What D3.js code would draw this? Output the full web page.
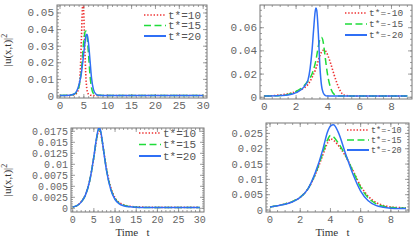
<!DOCTYPE html>
<html lang="en">
  <head>
    <meta charset="utf-8">
    <title>|u(x,t)|^2</title>
    <script src="https://cdnjs.cloudflare.com/ajax/libs/d3/7.8.5/d3.min.js"></script>
    <style type="text/css">
    body { margin: 0; background: #fff; }
    .tick-label { font-family: "Liberation Mono", "DejaVu Sans Mono", monospace; font-size: 11px; fill: #666; }
    .legend-label { font-family: "Liberation Mono", "DejaVu Sans Mono", monospace; font-size: 11px; fill: #555; }
    .axis-title { font-family: "Liberation Serif", "DejaVu Serif", serif; font-size: 11px; fill: #333; }
</style>
  </head>
  <body>
<script>
// ---- data ----
var seriesNames = ["red", "green", "blue"];

// top left: t* = 10, 15, 20
var xA = [0, 2, 3, 3.5, 4, 4.3, 4.5, 4.7, 4.8, 4.9, 5.1, 5.3, 5.5, 5.7, 6, 6.3, 6.6, 7, 7.5, 8, 10, 15, 20, 25, 30];
var redA   = [0.0003, 0.0004, 0.0008, 0.0018, 0.006, 0.018, 0.036, 0.053, 0.058, 0.055, 0.038, 0.02, 0.008, 0.003, 0.001, 0.0005, 0.0004, 0.0003, 0.0003, 0.0003, 0.0003, 0.0003, 0.0003, 0.0003, 0.0003];
var greenA = [0.0003, 0.0005, 0.0012, 0.0025, 0.006, 0.011, 0.016, 0.023, 0.027, 0.031, 0.036, 0.039, 0.039, 0.035, 0.024, 0.012, 0.005, 0.0015, 0.0006, 0.0004, 0.0003, 0.0003, 0.0003, 0.0003, 0.0003];
var blueA  = [0.0003, 0.0005, 0.0012, 0.003, 0.007, 0.011, 0.014, 0.019, 0.021, 0.024, 0.029, 0.034, 0.037, 0.037, 0.031, 0.021, 0.011, 0.004, 0.0012, 0.0005, 0.0003, 0.0003, 0.0003, 0.0003, 0.0003];
var legendA = ["t*=10", "t*=15", "t*=20"];
var yTicksA = ["0", "0.01", "0.02", "0.03", "0.04", "0.05"];
var xTicksA = ["0", "5", "10", "15", "20", "25", "30"];

// top right: t* = -10, -15, -20
var xB = [0, 1, 1.5, 2, 2.5, 2.75, 3, 3.1, 3.2, 3.25, 3.3, 3.4, 3.5, 3.6, 3.7, 3.8, 3.9, 4, 4.2, 4.4, 4.6, 4.8, 5, 5.5, 6, 7, 8, 9];
var redB   = [0.001, 0.002, 0.003, 0.005, 0.008, 0.011, 0.017, 0.02, 0.023, 0.025, 0.027, 0.032, 0.036, 0.039, 0.0405, 0.0405, 0.039, 0.036, 0.028, 0.019, 0.011, 0.005, 0.002, 0.001, 0.001, 0.001, 0.001, 0.001];
var greenB = [0.001, 0.0015, 0.0025, 0.005, 0.01, 0.014, 0.02, 0.024, 0.029, 0.032, 0.036, 0.044, 0.05, 0.0515, 0.048, 0.038, 0.027, 0.018, 0.007, 0.0025, 0.0012, 0.001, 0.001, 0.001, 0.001, 0.001, 0.001, 0.001];
var blueB  = [0.001, 0.0015, 0.002, 0.004, 0.009, 0.015, 0.04, 0.058, 0.074, 0.077, 0.075, 0.055, 0.026, 0.01, 0.004, 0.002, 0.0012, 0.001, 0.001, 0.001, 0.001, 0.001, 0.001, 0.001, 0.001, 0.001, 0.001, 0.001];
var legendB = ["t*=-10", "t*=-15", "t*=-20"];
var yTicksB = ["0", "0.02", "0.04", "0.06"];
var xTicksB = ["0", "2", "4", "6", "8"];

// bottom left: t* = 10, 15, 20
var xC = [0, 1, 2, 3, 4, 5, 5.5, 6, 6.3, 6.6, 7, 7.5, 8, 9, 10, 11, 12, 14, 16, 20, 25, 30];
var redC   = [0.0003, 0.0006, 0.0015, 0.0031, 0.0063, 0.0116, 0.0148, 0.0171, 0.0175, 0.017, 0.015, 0.0119, 0.009, 0.0047, 0.0024, 0.0013, 0.0008, 0.0004, 0.0003, 0.0002, 0.0002, 0.0002];
var greenC = [0.0003, 0.0006, 0.0014, 0.003, 0.0062, 0.0117, 0.015, 0.0176, 0.018, 0.0174, 0.0151, 0.0118, 0.0087, 0.0044, 0.0022, 0.0011, 0.0007, 0.0003, 0.0002, 0.0002, 0.0002, 0.0002];
var blueC  = [0.0003, 0.0006, 0.0014, 0.003, 0.0062, 0.0118, 0.0152, 0.0178, 0.0183, 0.0176, 0.0152, 0.0117, 0.0085, 0.0042, 0.002, 0.001, 0.0006, 0.0003, 0.0002, 0.0002, 0.0002, 0.0002];
var legendC = ["t*=10", "t*=15", "t*=20"];
var yTicksC = ["0", "0.0025", "0.005", "0.0075", "0.01", "0.0125", "0.015", "0.0175"];
var xTicksC = ["0", "5", "10", "15", "20", "25", "30"];

// bottom right: t* = -10, -15, -20
var xD = [0, 0.5, 1, 1.5, 2, 2.5, 3, 3.5, 3.8, 4, 4.2, 4.5, 5, 5.5, 6, 6.5, 7, 7.5, 8, 8.5, 9];
var redD   = [0.001, 0.0014, 0.002, 0.0028, 0.0042, 0.0068, 0.0115, 0.018, 0.0218, 0.0232, 0.0228, 0.0212, 0.0176, 0.0128, 0.0078, 0.0045, 0.0025, 0.0015, 0.001, 0.0008, 0.0007];
var greenD = [0.001, 0.0014, 0.002, 0.0028, 0.0042, 0.0068, 0.0118, 0.0187, 0.0228, 0.0243, 0.0239, 0.022, 0.0178, 0.0126, 0.0074, 0.004, 0.0021, 0.0012, 0.0008, 0.0007, 0.0006];
var blueD  = [0.001, 0.0014, 0.0019, 0.0027, 0.0041, 0.0068, 0.0122, 0.0198, 0.0254, 0.0274, 0.0278, 0.0256, 0.0184, 0.0116, 0.0062, 0.003, 0.0015, 0.0009, 0.0006, 0.0005, 0.0005];
var legendD = ["t*=-10", "t*=-15", "t*=-20"];
var yTicksD = ["0", "0.005", "0.01", "0.015", "0.02", "0.025"];
var xTicksD = ["0", "2", "4", "6", "8"];

// ---- styles ----
var colors = { red: "#ee3030", green: "#1fdc3a", blue: "#2f6ff5" };
var dashes = { red: "1.4,1.8", green: "7,3.5", blue: null };
var widths = { red: 1.6, green: 1.5, blue: 1.5 };

var svg = d3.select("body").append("svg").attr("width", 416).attr("height", 240);

function drawPanel(p) {
  var x = d3.scaleLinear().domain(p.xDomain).range([p.left, p.right]);
  var y = d3.scaleLinear().domain(p.yDomain).range([p.bottom, p.top]);
  var g = svg.append("g");

  g.append("clipPath").attr("id", "clip" + p.id)
    .append("rect").attr("x", p.left).attr("y", p.top)
    .attr("width", p.right - p.left).attr("height", p.bottom - p.top);

  // frame ticks: minor then major, all four sides
  var xMinor = d3.range(0, p.xDomain[1], p.xMinor), yMinor = d3.range(0, p.yDomain[1], p.yMinor);
  var xMajor = p.xTicks.map(Number), yMajor = p.yTicks.map(Number);
  function ticksX(vals, len) {
    vals.forEach(function (v) {
      g.append("line").attr("x1", x(v)).attr("x2", x(v)).attr("y1", p.bottom).attr("y2", p.bottom - len);
      g.append("line").attr("x1", x(v)).attr("x2", x(v)).attr("y1", p.top).attr("y2", p.top + len);
    });
  }
  function ticksY(vals, len) {
    vals.forEach(function (v) {
      g.append("line").attr("y1", y(v)).attr("y2", y(v)).attr("x1", p.left).attr("x2", p.left + len);
      g.append("line").attr("y1", y(v)).attr("y2", y(v)).attr("x1", p.right).attr("x2", p.right - len);
    });
  }
  ticksX(xMinor, 2); ticksY(yMinor, 2);
  ticksX(xMajor, 4); ticksY(yMajor, 4);
  g.selectAll("line").attr("stroke", "#888").attr("stroke-width", 0.8);

  g.append("rect").attr("x", p.left).attr("y", p.top)
    .attr("width", p.right - p.left).attr("height", p.bottom - p.top)
    .attr("fill", "none").attr("stroke", "#777").attr("stroke-width", 1);

  // tick labels
  g.selectAll(".xl").data(p.xTicks).enter().append("text")
    .attr("class", "tick-label").attr("text-anchor", "middle").style("font-size", p.tickSize + "px")
    .attr("x", function (d) { return x(+d); }).attr("y", p.bottom + 11).text(function (d) { return d; });
  g.selectAll(".yl").data(p.yTicks).enter().append("text")
    .attr("class", "tick-label").attr("text-anchor", "end").style("font-size", p.tickSize + "px")
    .attr("x", p.left - 3).attr("y", function (d) { return y(+d) + 3.5; }).text(function (d) { return d; });

  // curves
  var line = d3.line().curve(d3.curveMonotoneX)
    .x(function (d) { return x(d[0]); }).y(function (d) { return y(d[1]); });
  seriesNames.forEach(function (name, i) {
    var pts = p.xs.map(function (v, j) { return [v, p.series[i][j]]; });
    g.append("path").datum(pts).attr("d", line)
      .attr("clip-path", "url(#clip" + p.id + ")")
      .attr("fill", "none").attr("stroke", colors[name])
      .attr("stroke-width", widths[name]).attr("stroke-dasharray", dashes[name]);
  });

  // legend
  seriesNames.forEach(function (name, i) {
    var ly = p.legendY + i * p.legendStep;
    g.append("line").attr("x1", p.legendX).attr("x2", p.legendX + 22).attr("y1", ly).attr("y2", ly)
      .attr("stroke", colors[name]).attr("stroke-width", name === "blue" ? 2 : 1.6)
      .attr("stroke-dasharray", dashes[name]);
    g.append("text").attr("class", "legend-label").style("font-size", p.legendSize + "px")
      .attr("x", p.legendX + 24).attr("y", ly + p.legendSize * 0.35)
      .text(p.legend[i]);
  });

  if (p.yTitle) {
    var t = g.append("text").attr("class", "axis-title").attr("text-anchor", "middle")
      .attr("transform", "translate(" + 11 + "," + p.yTitle + ") rotate(-90)");
    t.append("tspan").text("|u(x,t)|");
    t.append("tspan").attr("dy", -4).attr("font-size", "8px").text("2");
  }
  if (p.xTitle) {
    g.append("text").attr("class", "axis-title").attr("text-anchor", "middle")
      .attr("x", (p.left + p.right) / 2 - 5).attr("y", 236)
      .attr("xml:space", "preserve").text("Time   t");
  }
}

drawPanel({ id: "A", left: 57, right: 207, top: 5, bottom: 98, xDomain: [-0.63, 30.8], yDomain: [-0.0012, 0.0548],
  xs: xA, series: [redA, greenA, blueA], legend: legendA, xTicks: xTicksA, yTicks: yTicksA,
  xMinor: 1, yMinor: 0.002, legendX: 144, legendY: 15, legendStep: 10.5, legendSize: 11, tickSize: 11, yTitle: 50 });
drawPanel({ id: "B", left: 260, right: 412, top: 5, bottom: 99, xDomain: [-0.27, 9.29], yDomain: [-0.0015, 0.0796],
  xs: xB, series: [redB, greenB, blueB], legend: legendB, xTicks: xTicksB, yTicks: yTicksB,
  xMinor: 0.5, yMinor: 0.005, legendX: 345, legendY: 13, legendStep: 11, legendSize: 9.5, tickSize: 11 });
drawPanel({ id: "C", left: 71, right: 204, top: 128, bottom: 212, xDomain: [-0.4, 31.0], yDomain: [-0.00084, 0.01825],
  xs: xC, series: [redC, greenC, blueC], legend: legendC, xTicks: xTicksC, yTicks: yTicksC,
  xMinor: 1, yMinor: 0.0005, legendX: 139, legendY: 133, legendStep: 11.5, legendSize: 11, tickSize: 10, yTitle: 180, xTitle: true });
drawPanel({ id: "D", left: 266, right: 409, top: 123, bottom: 212, xDomain: [-0.265, 9.2], yDomain: [-0.00065, 0.0284],
  xs: xD, series: [redD, greenD, blueD], legend: legendD, xTicks: xTicksD, yTicks: yTicksD,
  xMinor: 0.5, yMinor: 0.001, legendX: 347, legendY: 130, legendStep: 10, legendSize: 8.5, tickSize: 10.5, xTitle: true });
</script>
  </body>
</html>
